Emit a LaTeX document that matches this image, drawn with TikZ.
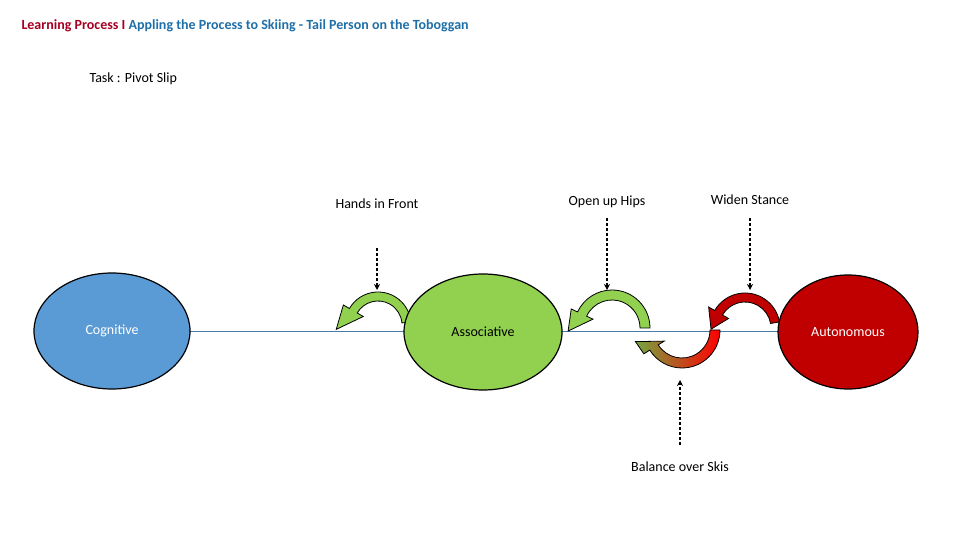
\documentclass[tikz,border=0pt]{standalone}
\usepackage{fontspec}
\setmainfont{Carlito}
\usetikzlibrary{shapes.geometric,arrows.meta}
\begin{document}
\begin{tikzpicture}[x=1pt,y=1pt,
  ell/.style={ellipse,draw=black,line width=1.2pt,inner sep=0pt},
  lbl/.style={font=\fontsize{14}{16}\selectfont},
  dsh/.style={densely dashed,line width=1.3pt,-{Stealth[length=6pt,width=6pt]}}]
\useasboundingbox (0,0) rectangle (960,540);
\definecolor{cblue}{HTML}{5B9BD5}\definecolor{cgreen}{HTML}{92D050}\definecolor{cred}{HTML}{C00000}
\definecolor{tred}{HTML}{A50021}\definecolor{tblue}{HTML}{1F6FA8}
\newcommand\curvarrow[9]{%
 \path[#1] ([shift={#2}]#5:#3) arc[start angle=#5,end angle=#6,radius=#3]
   -- ([shift={#2}]#6:#3+7) -- ([shift={#2}]#7:#8) -- ([shift={#2}]#6:#4-7)
   -- ([shift={#2}]#6:#4) arc[start angle=#6,end angle=#5,radius=#4] -- cycle;}
\node[anchor=west,font=\fontsize{14}{16}\selectfont\bfseries] (title) at (18,514)
 {\textcolor{tred}{Learning Process I} \textcolor{tblue}{Appling the Process to Skiing - Tail Person on the Toboggan}};
\node[anchor=west,lbl] (task) at (86,461) {Task : Pivot Slip};
\coordinate (L1) at (190,209); \coordinate (L2) at (780,209);
\draw[cblue!80!black,line width=0.6pt] (L1) -- (L2);
\curvarrow{fill=cgreen,draw=black,line width=0.8pt}{(378,215)}{33}{24}{5}{150}{186}{42}{}
\curvarrow{fill=cgreen,draw=black,line width=0.8pt}{(612,212)}{38}{28}{0}{155}{184}{44}{}
\curvarrow{fill=cred,draw=black,line width=0.8pt}{(745,212)}{35}{26}{10}{150}{182}{34}{}
\curvarrow{left color=cgreen!80!black,right color=red,draw=black,line width=0.8pt}{(682,210)}{38}{28}{0}{-148}{-166}{48}{}
\node[ell,fill=cblue,minimum width=156,minimum height=116] (cog) at (112,209) {};
\node[lbl,text=white] at (112,209) {Cognitive};
\node[ell,fill=cgreen,minimum width=158,minimum height=116] (asc) at (483,208) {};
\node[lbl] at (483,208) {Associative};
\node[ell,fill=cred,minimum width=140,minimum height=114] (aut) at (848,208) {};
\node[lbl,text=white] at (848,208) {Autonomous};
\node[lbl] (h) at (377,336) {Hands in Front};
\node[lbl] (o) at (607,338) {Open up Hips};
\node[lbl] (w) at (750,340) {Widen Stance};
\node[lbl] (b) at (680,73) {Balance over Skis};
\coordinate (h1) at (377,292); \coordinate (h2) at (377,250);
\coordinate (o1) at (607,322); \coordinate (o2) at (607,250);
\coordinate (w1) at (750,322); \coordinate (w2) at (750,250);
\coordinate (b1) at (680,95); \coordinate (b2) at (680,160);
\draw[dsh] (h1) -- (h2); \draw[dsh] (o1) -- (o2); \draw[dsh] (w1) -- (w2); \draw[dsh] (b1) -- (b2);
\end{tikzpicture}
\end{document}
